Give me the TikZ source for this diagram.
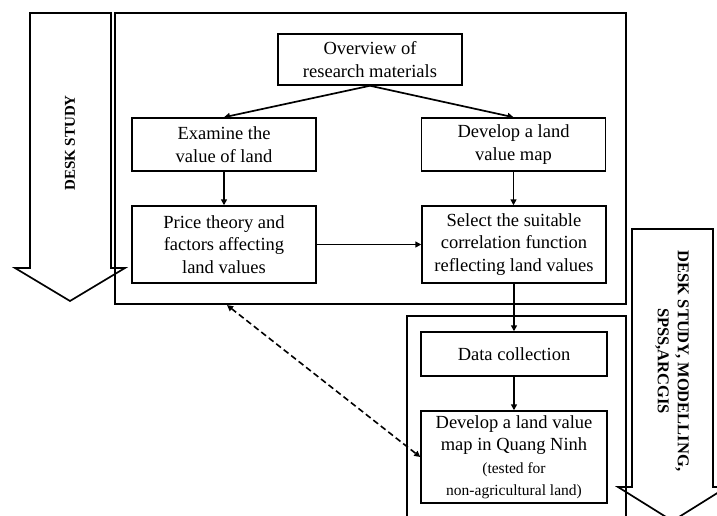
\documentclass[tikz,border=0pt]{standalone}
\usepackage{fontspec}
\setmainfont{Liberation Serif}
\usetikzlibrary{positioning,arrows.meta,calc}
\newcommand{\notesize}{\fontsize{15.5}{18.5}\selectfont}

\begin{document}
\begin{tikzpicture}[
		x=1pt, y=-1pt,
		font=\fontsize{18.5}{22.5}\selectfont,
		box/.style={draw, line width=1.5pt, align=center, inner sep=1pt,
				minimum width=184pt},
		frame/.style={draw, line width=2.2pt, inner sep=0pt},
		blockarr/.style={draw, line width=1.7pt, line join=miter},
		lbl/.style={font=\bfseries\fontsize{15}{19}\selectfont, align=center},
		arr/.style={-{Triangle[length=6pt,width=6pt]}, line width=1.7pt},
		link/.style={{Triangle[length=6pt,width=6pt]}-{Triangle[length=6pt,width=6pt]},
				line width=1.6pt, dash pattern=on 6pt off 3.5pt}
		]
		\useasboundingbox (0,0) rectangle (717,516);
		% frames
		\node[frame, minimum width=511pt, minimum height=291pt] (desk) at (370.5,158.5) {};
		\node[frame, minimum width=219pt, minimum height=216pt] (model) at (516.5,424) {};
		% block arrows at the sides
		\draw[blockarr] (30,13) -- (111,13) -- (111,268) -- (125,268) -- (70,301)
		-- (15,268) -- (30,268) -- cycle;
		\node[lbl, rotate=90] (deskl) at (70,143) {DESK STUDY};
		\draw[blockarr] (632,229) -- (713,229) -- (713,487) -- (727,487) -- (672.5,521)
		-- (618,487) -- (632,487) -- cycle;
		\node[lbl, font=\bfseries\fontsize{16.5}{20}\selectfont, rotate=-90] (deskr)
		at (672,361) {DESK STUDY, MODELLING,\\SPSS,ARCGIS};
		% desk study steps
		\node[box, minimum height=51pt] (overview) at (370,59.5)
		{Overview of\\research materials};
		\node[box, minimum height=53pt] (examine) at (224,144.5)
		{Examine the\\value of land};
		\node[box, minimum height=53pt] (mapdev) at (513.5,144.5)
		{Develop a land\\value map};
		\node[box, minimum height=77pt] (theory) at (224,244.5)
		{Price theory and\\factors affecting\\land values};
		\node[box, minimum height=77pt] (select) at (514,244.5)
		{Select the suitable\\correlation function\\reflecting land values};
		% modelling steps
		\node[box, minimum width=186pt, minimum height=44pt] (data) at (514,354)
		{Data collection};
		\node[box, minimum width=186pt, minimum height=92pt] (qnmap) at (514,457)
		{Develop a land value\\map in Quang Ninh\\{\notesize (tested for}\\{\notesize non-agricultural land)}};
		% arrows
		\draw[arr] (overview.south) -- (examine.north);
		\draw[arr] (overview.south) -- (mapdev.north);
		\draw[arr] (examine) -- (theory);
		\draw[arr] (mapdev) -- (mapdev |- select.north);
		\draw[arr] (theory) -- (select);
		\draw[arr] (select) -- (data);
		\draw[arr] (data) -- (qnmap);
		% feedback between the two stages
		\coordinate (fb) at ([xshift=-143.5pt]desk.south);
		\draw[link] (fb) -- (qnmap.west);
	\end{tikzpicture}
\end{document}
